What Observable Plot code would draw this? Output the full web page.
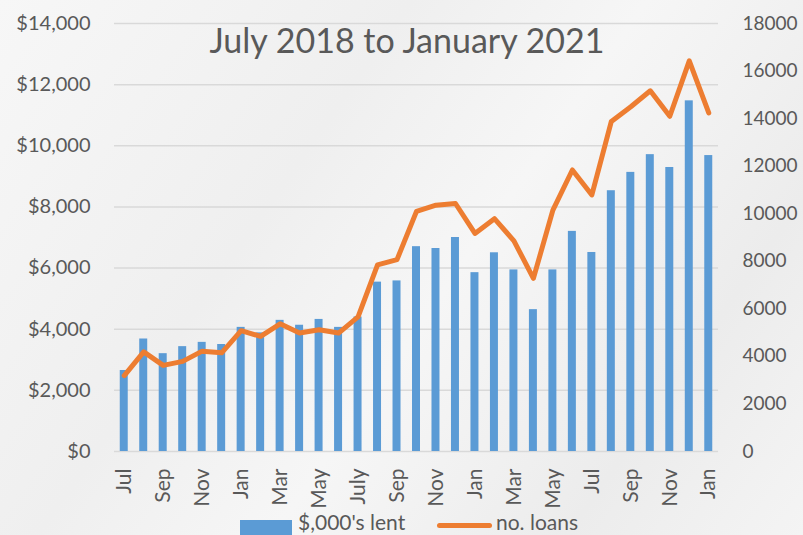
<!DOCTYPE html>
<html>
<head>
<meta charset="utf-8">
<script src="https://cdn.jsdelivr.net/npm/d3@7"></script>
<script src="https://cdn.jsdelivr.net/npm/@observablehq/plot@0.6"></script>
<style>
  html, body { margin: 0; padding: 0; }
  #wrap {
    position: relative; width: 803px; height: 535px; overflow: hidden;
    background: linear-gradient(125deg, #f7f7f7 0%, #efefef 35%, #f6f6f6 55%, #ececec 80%, #f4f4f4 100%);
    font-family: Lato, "Open Sans", sans-serif; color: #595959;
  }
  #title { position: absolute; left: 0; width: 814px; top: 20px; text-align: center; font-size: 34px; line-height: 40px; }
  .leg { position: absolute; top: 507px; font-size: 21px; line-height: 30px; white-space: nowrap; }
  .sw { position: absolute; }
  svg { position: absolute; left: 0; top: 0; }
</style>
</head>
<body>
<div id="wrap">
  <div id="chart"></div>
  <div id="title">July 2018 to January 2021</div>
  <div class="sw" style="left:240px; top:520px; width:52px; height:20px; background:#5b9bd5;"></div>
  <div class="leg" style="left:298px;">$,000's lent</div>
  <div class="sw" style="left:437px; top:523px; width:55px; height:5px; border-radius:3px; background:#ed7d31;"></div>
  <div class="leg" style="left:496px;">no. loans</div>
</div>
<script>
const monthLabels = ["Jul","Aug","Sep","Oct","Nov","Dec","Jan","Feb","Mar","Apr","May","Jun",
  "July","Aug","Sep","Oct","Nov","Dec","Jan","Feb","Mar","Apr","May","Jun",
  "Jul","Aug","Sep","Oct","Nov","Dec","Jan"];
const lentThousands = [2650,3680,3200,3430,3570,3500,4060,3880,4290,4130,4320,4060,
  4400,5540,5580,6700,6640,7000,5850,6500,5940,4640,5940,7200,
  6510,8530,9130,9710,9290,11470,9680];
const numLoans = [3190,4190,3620,3790,4220,4150,5080,4840,5370,4980,5120,4980,
  5660,7850,8070,10100,10360,10430,9170,9790,8860,7280,10150,11840,
  10790,13880,14500,15170,14100,16430,14240];
const leftTicks = [0,2000,4000,6000,8000,10000,12000,14000];
const rightTicks = [0,2000,4000,6000,8000,10000,12000,14000,16000,18000];

const LEFT_MAX = 14000, RIGHT_MAX = 18000;
const toLeft = v => v * LEFT_MAX / RIGHT_MAX;
const data = monthLabels.map((m, i) => ({i, m, lent: lentThousands[i], loans: numLoans[i]}));

const chart = Plot.plot({
  width: 803, height: 535,
  marginTop: 23, marginBottom: 84, marginLeft: 114, marginRight: 85,
  style: {background: "transparent", color: "#595959", fontFamily: "Lato, 'Open Sans', sans-serif", fontSize: "19px"},
  x: {type: "band", domain: d3.range(monthLabels.length), paddingInner: 0.59, paddingOuter: 0.295, round: false},
  y: {domain: [0, LEFT_MAX]},
  marks: [
    Plot.ruleY(leftTicks, {stroke: "#d9d9d9", strokeWidth: 1.5}),
    Plot.barY(data, {x: "i", y: "lent", fill: "#5b9bd5"}),
    Plot.lineY(data, {x: "i", y: d => toLeft(d.loans), stroke: "#ed7d31", strokeWidth: 5,
      strokeLinejoin: "round", strokeLinecap: "round"}),
    Plot.axisY({ticks: leftTicks, tickFormat: d => "$" + d3.format(",")(d), tickSize: 0, tickPadding: 24,
      label: null, fontSize: 20}),
    Plot.axisY({anchor: "right", ticks: rightTicks.map(toLeft), tickFormat: d => String(Math.round(d * RIGHT_MAX / LEFT_MAX)),
      tickSize: 0, tickPadding: 24, label: null, fontSize: 19}),
    Plot.axisX({ticks: d3.range(0, monthLabels.length, 2), tickFormat: i => monthLabels[i], tickRotate: -90,
      tickSize: 0, tickPadding: 17, label: null, fontSize: 21})
  ]
});
document.getElementById("chart").appendChild(chart);
</script>
</body>
</html>
